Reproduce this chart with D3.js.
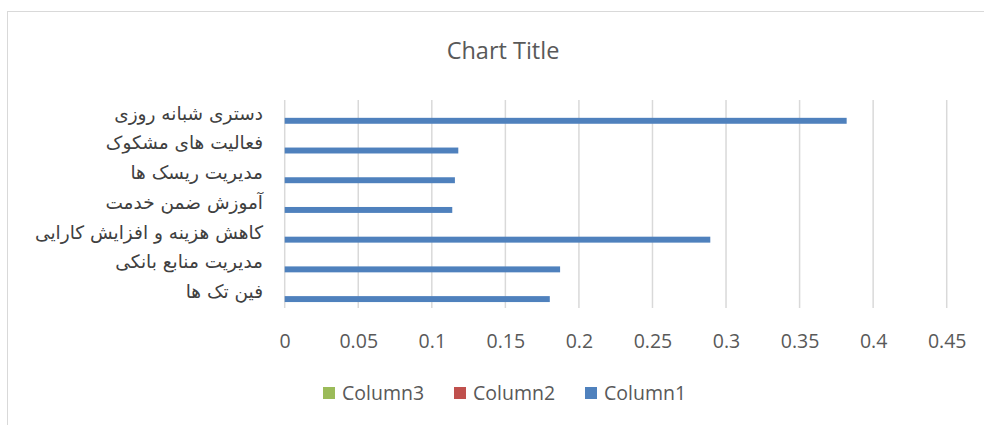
<!DOCTYPE html>
<html>
<head>
<meta charset="utf-8">
<script src="https://cdn.jsdelivr.net/npm/d3@7"></script>
<style>
  html, body { margin: 0; padding: 0; background: #fff; }
  svg { display: block; }
</style>
</head>
<body>
<svg id="chart" width="984" height="425"></svg>
<script>
// Categories, listed top to bottom as shown on the chart
const categories = [
  "دستری شبانه روزی",
  "فعالیت های مشکوک",
  "مدیریت ریسک ها",
  "آموزش ضمن خدمت",
  "کاهش هزینه و افزایش کارایی",
  "مدیریت منابع بانکی",
  "فین تک ها"
];
const column1 = [0.382, 0.118, 0.1157, 0.1139, 0.2893, 0.1872, 0.1802];
const column2 = [null, null, null, null, null, null, null];
const column3 = [null, null, null, null, null, null, null];
const seriesNames = ["Column1", "Column2", "Column3"];
const seriesColors = ["#4f81bd", "#c0504d", "#9bbb59"];
const xTicks = [0, 0.05, 0.1, 0.15, 0.2, 0.25, 0.3, 0.35, 0.4, 0.45];

const svg = d3.select("#chart");
const textColor = "#595959";
const latin = "'Open Sans', 'Liberation Sans', sans-serif";

// outer chart frame
svg.append("rect")
  .attr("x", 7.5).attr("y", 11.5)
  .attr("width", 1000).attr("height", 430)
  .attr("fill", "#fff").attr("stroke", "#d9d9d9").attr("stroke-width", 1);

const plot = { left: 284.7, right: 946.7, top: 100, bottom: 308 };

const x = d3.scaleLinear().domain([0, 0.45]).range([plot.left, plot.right]);
const y = d3.scaleBand().domain(categories).range([plot.top, plot.bottom]).paddingInner(0).paddingOuter(0);

// clustered series inside each band; Column1 sits lowest in its cluster
const clusterH = y.bandwidth() * 0.6;
const ySeries = d3.scaleBand().domain(["Column3", "Column2", "Column1"])
  .range([(y.bandwidth() - clusterH) / 2, (y.bandwidth() + clusterH) / 2]);

// vertical gridlines
svg.append("g").selectAll("line").data(xTicks).join("line")
  .attr("x1", d => x(d)).attr("x2", d => x(d))
  .attr("y1", plot.top).attr("y2", plot.bottom)
  .attr("stroke", "#d9d9d9").attr("stroke-width", 1.5);

// x axis tick labels
const xAxis = d3.axisBottom(x).tickValues(xTicks).tickSize(0).tickPadding(0)
  .tickFormat(d => String(d));
const gx = svg.append("g").attr("transform", `translate(0,${plot.bottom + 33})`).call(xAxis);
gx.select(".domain").remove();
gx.selectAll("text")
  .attr("dy", "0.36em")
  .attr("fill", textColor)
  .style("font-family", latin)
  .style("font-size", "19.5px");

// category labels
const gy = svg.append("g").attr("transform", `translate(263,-1)`)
  .call(d3.axisLeft(y).tickSize(0).tickPadding(0));
gy.select(".domain").remove();
gy.selectAll("text")
  .attr("fill", "#404040")
  .attr("direction", "rtl")
  .attr("text-anchor", "start")
  .style("font-family", "'DejaVu Sans', sans-serif")
  .style("font-size", "18.5px");

// bars
const series = [
  { name: "Column1", values: column1 },
  { name: "Column2", values: column2 },
  { name: "Column3", values: column3 }
];
series.forEach((s, i) => {
  svg.append("g").selectAll("rect")
    .data(categories.map((c, j) => ({ c, v: s.values[j] })).filter(d => d.v != null))
    .join("rect")
    .attr("x", x(0))
    .attr("y", d => y(d.c) + ySeries(s.name))
    .attr("width", d => x(d.v) - x(0))
    .attr("height", ySeries.bandwidth())
    .attr("fill", seriesColors[i]);
});

// title
svg.append("text")
  .attr("x", 503).attr("y", 59)
  .attr("text-anchor", "middle")
  .attr("fill", textColor)
  .style("font-family", latin)
  .style("font-size", "23.5px")
  .text("Chart Title");

// legend (Column3, Column2, Column1 left to right)
const legendItems = [
  { name: "Column3", color: seriesColors[2], x: 323 },
  { name: "Column2", color: seriesColors[1], x: 454 },
  { name: "Column1", color: seriesColors[0], x: 585 }
];
const lg = svg.append("g").selectAll("g").data(legendItems).join("g")
  .attr("transform", d => `translate(${d.x},387)`);
lg.append("rect").attr("width", 12).attr("height", 12).attr("fill", d => d.color);
lg.append("text")
  .attr("x", 19).attr("y", 6).attr("dy", "0.36em")
  .attr("fill", textColor)
  .style("font-family", latin)
  .style("font-size", "19.5px")
  .text(d => d.name);
</script>
</body>
</html>
